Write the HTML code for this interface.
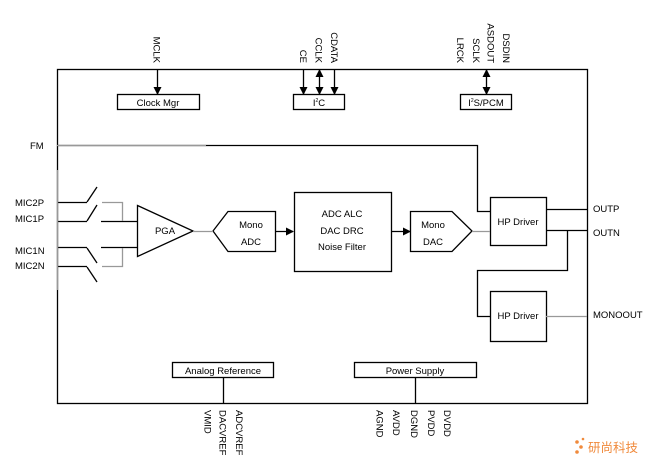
<!DOCTYPE html>
<html><head><meta charset="utf-8"><style>
html,body{margin:0;padding:0;background:#fff;}
svg{display:block;}
text{font-family:"Liberation Sans","Noto Sans CJK SC",sans-serif;font-size:9.5px;fill:#000;}
</style></head><body>
<svg width="653" height="467" viewBox="0 0 653 467" xmlns="http://www.w3.org/2000/svg">
<defs>
<marker id="ah" markerWidth="8" markerHeight="8" refX="7" refY="4" orient="auto" markerUnits="userSpaceOnUse"><path d="M0,0 L8,4 L0,8 z" fill="#000"/></marker>
<marker id="as" markerWidth="8" markerHeight="8" refX="1" refY="4" orient="auto" markerUnits="userSpaceOnUse"><path d="M8,0 L0,4 L8,8 z" fill="#000"/></marker>
</defs>
<g fill="none" stroke="#000" stroke-width="1.3">
<rect x="57.5" y="69.5" width="530" height="334"/>
<rect x="117.5" y="94.5" width="82" height="15"/>
<rect x="293.5" y="94.5" width="51" height="15"/>
<rect x="460.5" y="94.5" width="51" height="15"/>
<line x1="157.5" y1="69" x2="157.5" y2="94" marker-end="url(#ah)"/>
<line x1="303.5" y1="69" x2="303.5" y2="94" marker-end="url(#ah)"/>
<line x1="319.5" y1="70" x2="319.5" y2="94" marker-end="url(#ah)" marker-start="url(#as)"/>
<line x1="334.5" y1="69" x2="334.5" y2="94" marker-end="url(#ah)"/>
<line x1="486.5" y1="70" x2="486.5" y2="94" marker-end="url(#ah)" marker-start="url(#as)"/>
<polyline points="57,145.5 477.5,145.5 477.5,211.5 490,211.5"/>
<!-- mic switches -->
<line x1="57" y1="202.5" x2="87" y2="202.5"/><line x1="87" y1="202" x2="97" y2="187"/>
<line x1="57" y1="221.5" x2="87" y2="221.5"/><line x1="87" y1="221" x2="97" y2="205"/>
<line x1="57" y1="247.5" x2="87" y2="247.5"/><line x1="87" y1="248" x2="97" y2="263"/>
<line x1="57" y1="266.5" x2="87" y2="266.5"/><line x1="87" y1="267" x2="97" y2="282"/>
<line x1="101" y1="221.5" x2="137" y2="221.5"/>
<line x1="101" y1="247.5" x2="137" y2="247.5"/>
<polygon points="137.5,205.5 193,231 137.5,256.5"/>
<polygon points="213,231 228,211.5 275.5,211.5 275.5,251.5 228,251.5"/>
<line x1="275" y1="231.5" x2="293" y2="231.5" marker-end="url(#ah)"/>
<rect x="294.5" y="192.5" width="97" height="79"/>
<line x1="391" y1="231.5" x2="410" y2="231.5" marker-end="url(#ah)"/>
<polygon points="410.5,211.5 452,211.5 472,231 452,251.5 410.5,251.5"/>
<rect x="490.5" y="197.5" width="56" height="48"/>
<rect x="490.5" y="291.5" width="56" height="50"/>
<line x1="546" y1="209.5" x2="587" y2="209.5"/>
<line x1="546" y1="230.5" x2="587" y2="230.5"/>
<polyline points="567.5,230 567.5,270.5 477.5,270.5 477.5,316.5 490,316.5"/>
<rect x="172.5" y="362.5" width="101" height="15"/>
<rect x="354.5" y="362.5" width="122" height="15"/>
<line x1="223.5" y1="377" x2="223.5" y2="403"/>
<line x1="415.5" y1="377" x2="415.5" y2="403"/>
</g>
<g fill="none" stroke="#999" stroke-width="1.3">
<line x1="57" y1="145.5" x2="206" y2="145.5"/>
<polyline points="102,202.5 122.5,202.5 122.5,221"/>
<polyline points="102,266.5 122.5,266.5 122.5,248"/>
<line x1="193" y1="231.5" x2="213" y2="231.5"/>
<line x1="472" y1="231.5" x2="490" y2="231.5"/>
<line x1="546" y1="316.5" x2="587" y2="316.5"/>
<line x1="57.5" y1="170" x2="57.5" y2="290"/>
</g>
<g text-anchor="middle">
<text x="158" y="106">Clock Mgr</text>
<text x="319" y="106">I<tspan font-size="5" dy="-4">2</tspan><tspan dy="4">C</tspan></text>
<text x="486" y="106">I<tspan font-size="5" dy="-4">2</tspan><tspan dy="4">S/PCM</tspan></text>
<text x="223" y="374">Analog Reference</text>
<text x="415" y="374">Power Supply</text>
<text x="165" y="234">PGA</text>
<text x="251" y="228">Mono</text><text x="251" y="245">ADC</text>
<text x="342" y="217">ADC ALC</text><text x="342" y="234">DAC DRC</text><text x="342" y="250">Noise Filter</text>
<text x="433" y="228">Mono</text><text x="433" y="245">DAC</text>
<text x="518" y="225">HP Driver</text>
<text x="518" y="319">HP Driver</text>
</g>
<text x="30" y="149">FM</text>
<text x="15" y="206">MIC2P</text>
<text x="15" y="222">MIC1P</text>
<text x="15" y="254">MIC1N</text>
<text x="15" y="269">MIC2N</text>
<text x="593" y="212">OUTP</text>
<text x="593" y="236">OUTN</text>
<text x="593" y="318">MONOOUT</text>
<g text-anchor="end">
<text transform="translate(153.5,63) rotate(90)">MCLK</text>
<text transform="translate(300,63) rotate(90)">CE</text>
<text transform="translate(315.5,63) rotate(90)">CCLK</text>
<text transform="translate(331,63) rotate(90)">CDATA</text>
<text transform="translate(457,63) rotate(90)">LRCK</text>
<text transform="translate(473,63) rotate(90)">SCLK</text>
<text transform="translate(487.5,63) rotate(90)">ASDOUT</text>
<text transform="translate(503,63) rotate(90)">DSDIN</text>
</g>
<g>
<text transform="translate(204.5,410) rotate(90)">VMID</text>
<text transform="translate(219.5,410) rotate(90)">DACVREF</text>
<text transform="translate(236,410) rotate(90)">ADCVREF</text>
<text transform="translate(376.5,410) rotate(90)">AGND</text>
<text transform="translate(393,410) rotate(90)">AVDD</text>
<text transform="translate(411,410) rotate(90)">DGND</text>
<text transform="translate(428,410) rotate(90)">PVDD</text>
<text transform="translate(444,410) rotate(90)">DVDD</text>
</g>
<g fill="#f08a3c">
<circle cx="577" cy="442" r="1.8"/><circle cx="581" cy="447" r="1.8"/><circle cx="577" cy="452" r="1.8"/><circle cx="583" cy="439" r="1.3"/>
</g>
<text x="588" y="452" style="font-size:12.5px;fill:#f08a3c">研尚科技</text>
</svg>
</body></html>
